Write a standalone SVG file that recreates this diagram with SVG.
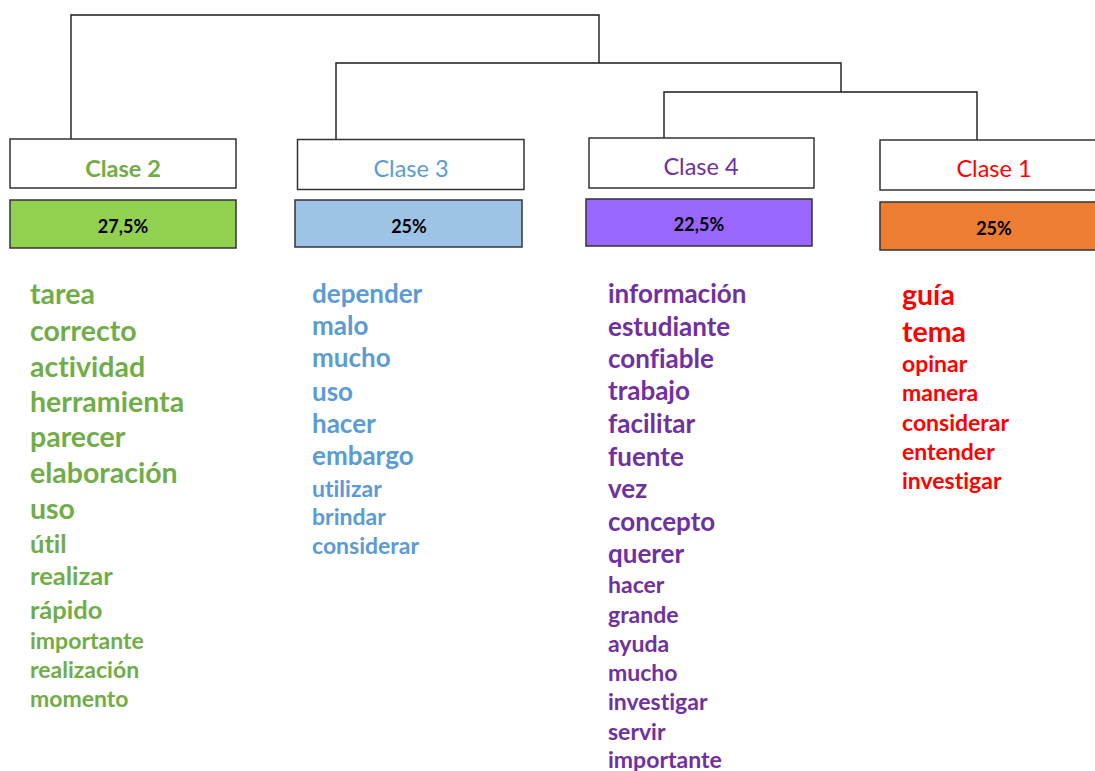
<svg xmlns="http://www.w3.org/2000/svg" width="1095" height="771" viewBox="0 0 1095 771">
<style>
text{font-variant-ligatures:none;font-feature-settings:"liga" 0,"dlig" 0}
.lnk{fill:none;stroke:#1a1a1a;stroke-width:1.4}
.hd{fill:#fff;stroke:#333;stroke-width:1.5}
.pc{stroke:#333;stroke-width:1.5}
.ht{font-family:Lato,"Open Sans",sans-serif;font-size:23.5px;text-anchor:middle}
.pt{font-family:Lato,"Open Sans",sans-serif;font-size:18px;font-weight:bold;text-anchor:middle;fill:#000}
.w{font-family:Lato,"Open Sans",sans-serif;font-weight:bold}
.g{fill:#70AD47}.b{fill:#5B9BD5}.p{fill:#7030A0}.r{fill:#FF0000}
.L{font-size:28.5px}.M{font-size:25.5px}.K{font-size:26px}.S{font-size:23px}
</style>
<g id="connectors">
<path class="lnk" d="M71,139 V15 H599 V63"/>
<path class="lnk" d="M336,140 V63 H841 V92"/>
<path class="lnk" d="M664,138 V92 H977 V140"/>
</g>
<g id="clase2">
<rect class="hd" x="10" y="139" width="226" height="49"/>
<text class="ht g" x="123" y="177" font-weight="bold">Clase 2</text>
<rect class="pc" x="10" y="200" width="226" height="48" fill="#92D050"/>
<text class="pt" x="123" y="233">27,5%</text>
<g class="w g">
<text class="L" x="30" y="304">tarea</text>
<text class="L" x="30" y="341">correcto</text>
<text class="L" x="30" y="377">actividad</text>
<text class="L" x="30" y="412">herramienta</text>
<text class="L" x="30" y="447">parecer</text>
<text class="L" x="30" y="483">elaboración</text>
<text class="L" x="30" y="519">uso</text>
<text class="M" x="30" y="553">útil</text>
<text class="M" x="30" y="585">realizar</text>
<text class="M" x="30" y="619">rápido</text>
<text class="S" x="30" y="649">importante</text>
<text class="S" x="30" y="678">realización</text>
<text class="S" x="30" y="707">momento</text>
</g>
</g>
<g id="clase3">
<rect class="hd" x="297.5" y="139.5" width="226.5" height="50"/>
<text class="ht b" x="411" y="177">Clase 3</text>
<rect class="pc" x="295" y="200" width="227" height="47" fill="#9DC3E6"/>
<text class="pt" x="409" y="233">25%</text>
<g class="w b">
<text class="K" x="312" y="303">depender</text>
<text class="K" x="312" y="335">malo</text>
<text class="K" x="312" y="367">mucho</text>
<text class="K" x="312" y="401">uso</text>
<text class="K" x="312" y="433">hacer</text>
<text class="K" x="312" y="465">embargo</text>
<text class="S" x="312" y="497">utilizar</text>
<text class="S" x="312" y="525">brindar</text>
<text class="S" x="312" y="554">considerar</text>
</g>
</g>
<g id="clase4">
<rect class="hd" x="589" y="138" width="225" height="50"/>
<text class="ht p" x="701" y="175">Clase 4</text>
<rect class="pc" x="586" y="199" width="226" height="47" fill="#9966FF"/>
<text class="pt" x="699" y="231">22,5%</text>
<g class="w p">
<text class="K" x="608" y="303">información</text>
<text class="K" x="608" y="336">estudiante</text>
<text class="K" x="608" y="368">confiable</text>
<text class="K" x="608" y="400">trabajo</text>
<text class="K" x="608" y="433">facilitar</text>
<text class="K" x="608" y="466">fuente</text>
<text class="K" x="608" y="498">vez</text>
<text class="K" x="608" y="531">concepto</text>
<text class="K" x="608" y="563">querer</text>
<text class="S" x="608" y="593">hacer</text>
<text class="S" x="608" y="623">grande</text>
<text class="S" x="608" y="652">ayuda</text>
<text class="S" x="608" y="681">mucho</text>
<text class="S" x="608" y="710">investigar</text>
<text class="S" x="608" y="740">servir</text>
<text class="S" x="608" y="768">importante</text>
</g>
</g>
<g id="clase1">
<rect class="hd" x="880" y="140" width="230" height="50"/>
<text class="ht r" x="994" y="177">Clase 1</text>
<rect class="pc" x="880" y="202" width="230" height="48" fill="#ED7D31"/>
<text class="pt" x="994" y="235">25%</text>
<g class="w r">
<text class="L" x="902" y="305">guía</text>
<text class="L" x="902" y="342">tema</text>
<text class="S" x="902" y="372">opinar</text>
<text class="S" x="902" y="401">manera</text>
<text class="S" x="902" y="431">considerar</text>
<text class="S" x="902" y="460">entender</text>
<text class="S" x="902" y="489">investigar</text>
</g>
</g>
</svg>
